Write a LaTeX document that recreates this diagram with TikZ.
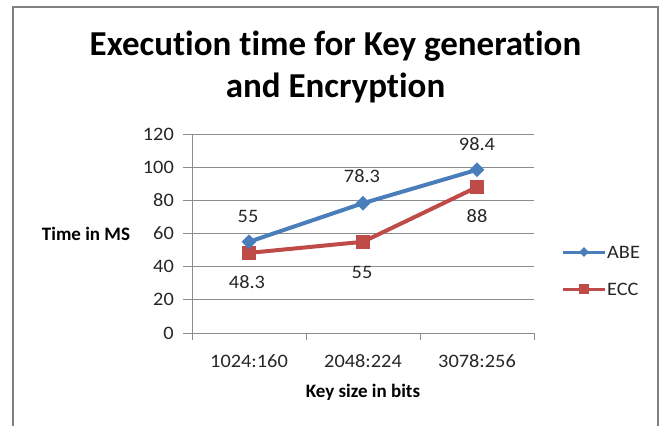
\documentclass[tikz,border=0pt]{standalone}
\usepackage{fontspec}
\setmainfont{Carlito}[Ligatures=NoCommon]
\newfontfamily\lblfont{Carlito}[FakeStretch=1.07, Ligatures=NoCommon]
\usetikzlibrary{shapes.geometric}
\definecolor{abe}{HTML}{4A7EBB}
\definecolor{ecc}{HTML}{BE4B48}
\definecolor{gridc}{HTML}{8C8C8C}
\definecolor{framec}{HTML}{808080}
\begin{document}
\begin{tikzpicture}[x=1pt,y=-1pt,
  lbl/.style={inner sep=0pt, font=\lblfont\fontsize{19}{23}\selectfont, text=black!85},
  axlbl/.style={inner sep=0pt, font=\fontsize{19}{23}\selectfont\bfseries},
  ttl/.style={inner sep=0pt, anchor=base, font=\fontsize{35}{42}\selectfont\bfseries},
  gridline/.style={draw=gridc, line width=1pt},
  abeline/.style={draw=abe, line width=4pt, line join=round},
  eccline/.style={draw=ecc, line width=4pt, line join=round},
  abemark/.style={diamond, aspect=1, fill=abe, draw=none, inner sep=0pt, minimum width=15pt, minimum height=15pt},
  eccmark/.style={rectangle, fill=ecc, draw=none, inner sep=0pt, minimum size=14pt}]
\useasboundingbox (0,0) rectangle (662,426);
% frame
\begin{scope}
\clip (0,0) rectangle (662,426);
\draw[framec, line width=2pt] (12.5,440) -- (12.5,7) -- (658,7) -- (658,440);
\end{scope}
% title
\node[ttl] (title1) at (335.5,55) {Execution time for Key generation};
\node[ttl] (title2) at (335.5,97) {and Encryption};
% grid and y labels
\foreach \v [count=\i from 0] in {0,20,40,60,80,100,120} {
  \pgfmathsetmacro{\yy}{333-\v*1.658333}
  \draw[gridline] (183,\yy) -- (534,\yy);
  \node[lbl, anchor=east] (yl\i) at (174,\yy) {\v};
}
% axes
\draw[gridline] (192,134) -- (192,333);
\foreach \x in {192,306,420,534} \draw[gridline] (\x,333) -- (\x,340);
% x labels
\node[lbl] (xl1) at (249,361) {1024:160};
\node[lbl] (xl2) at (363,361) {2048:224};
\node[lbl] (xl3) at (477,361) {3078:256};
\node[axlbl, anchor=base] (xtitle) at (363,397) {Key size in bits};
\node[axlbl, anchor=base] (ytitle) at (86,240.7) {Time in MS};
% data
\coordinate (a1) at (249,241.8);
\coordinate (a2) at (363,203.2);
\coordinate (a3) at (477,169.8);
\coordinate (e1) at (249,252.9);
\coordinate (e2) at (363,241.8);
\coordinate (e3) at (477,187.1);
\draw[eccline] (e1) -- (e2) -- (e3);
\draw[abeline] (a1) -- (a2) -- (a3);
\node[eccmark] (em1) at (e1) {};
\node[eccmark] (em2) at (e2) {};
\node[eccmark] (em3) at (e3) {};
\node[abemark] (am1) at (a1) {};
\node[abemark] (am2) at (a2) {};
\node[abemark] (am3) at (a3) {};
% data labels
\node[lbl] (da1) at (248,216) {55};
\node[lbl] (da2) at (362,176) {78.3};
\node[lbl] (da3) at (477,144) {98.4};
\node[lbl] (de1) at (247,282.5) {48.3};
\node[lbl] (de2) at (362,272) {55};
\node[lbl] (de3) at (477,216) {88};
% legend
\coordinate (la0) at (563,252);
\coordinate (la1) at (605,252);
\coordinate (le0) at (563,289);
\coordinate (le1) at (605,289);
\draw[abeline, line width=3pt] (la0) -- (la1);
\draw[eccline, line width=3pt] (le0) -- (le1);
\node[abemark, minimum width=10pt, minimum height=10pt] (lam) at (584,252) {};
\node[eccmark, minimum size=10pt] (lem) at (584,289) {};
\node[lbl, anchor=west] (labe) at (607,252) {ABE};
\node[lbl, anchor=west] (lecc) at (607,289) {ECC};
\end{tikzpicture}
\end{document}
